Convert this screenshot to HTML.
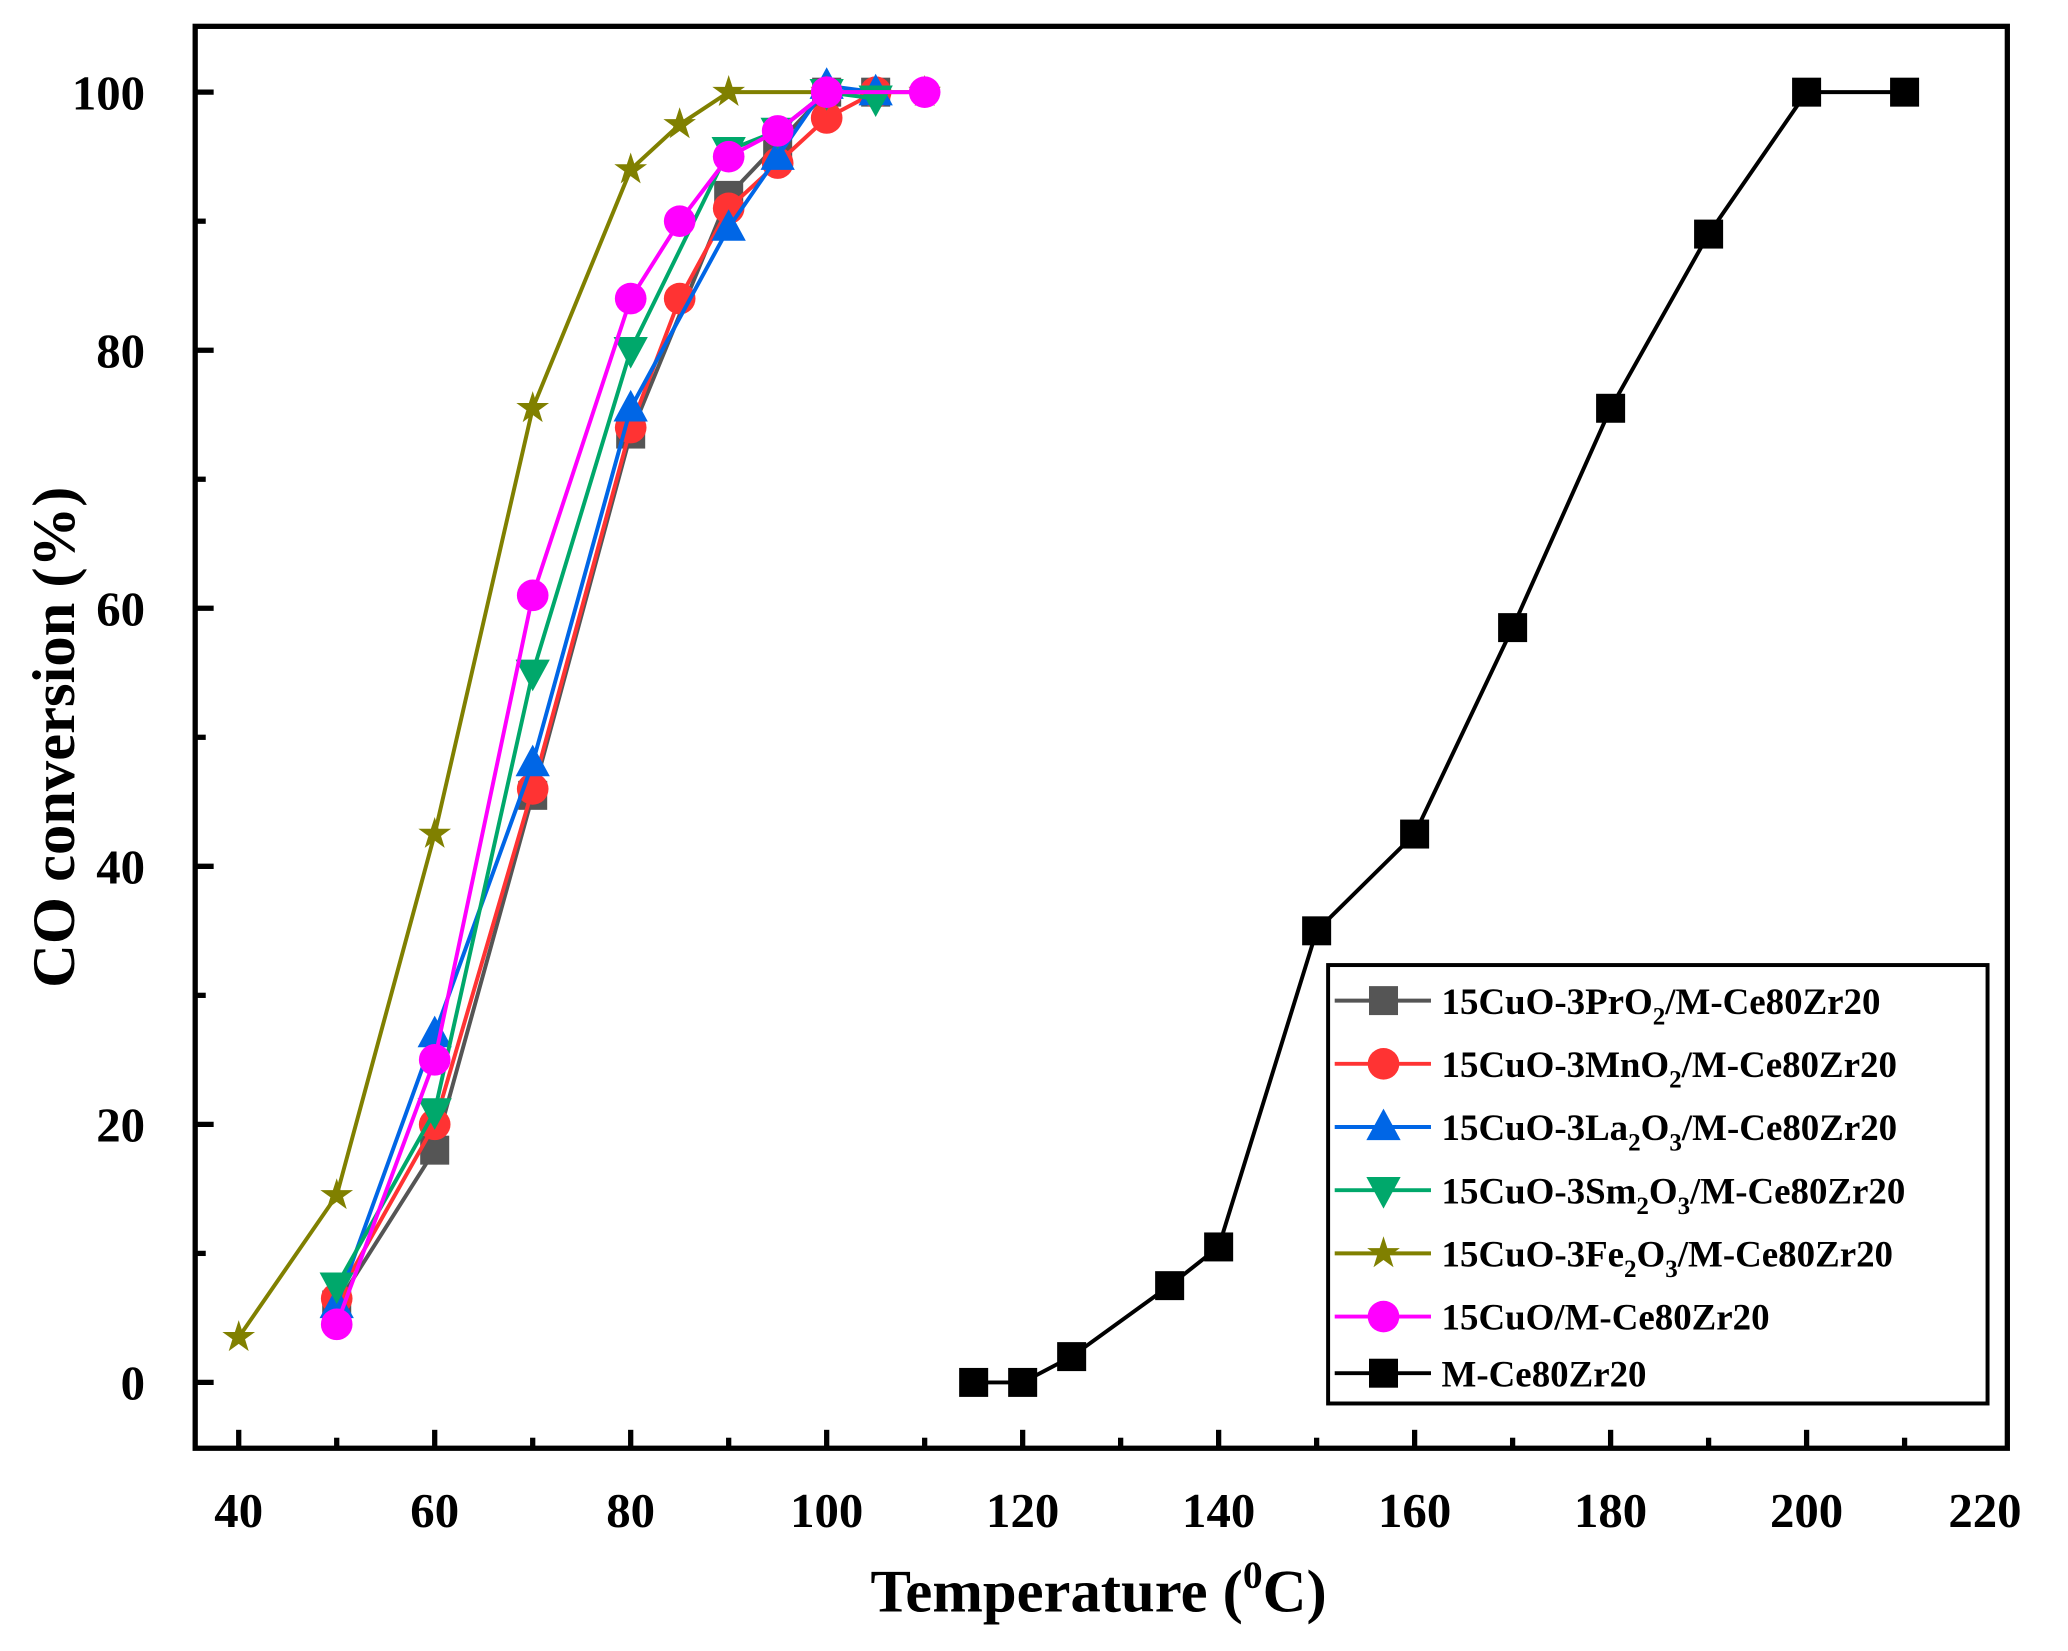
<!DOCTYPE html>
<html><head><meta charset="utf-8"><style>
html,body{margin:0;padding:0;background:#fff;}
svg{display:block;}
text{font-family:"Liberation Serif",serif;font-weight:bold;fill:#000;}
</style></head><body>
<svg id="s" width="2068" height="1651" viewBox="0 0 1568 1254" preserveAspectRatio="none" xmlns="http://www.w3.org/2000/svg">
<rect x="148" y="20" width="1374" height="1080" fill="none" stroke="#000" stroke-width="4"/>
<g id="ticks" stroke="#000" stroke-width="4"></g>
<g id="labels" font-size="37" text-anchor="middle"></g>
<g id="series"></g>
<text x="0" y="0" font-size="46" text-anchor="middle" transform="translate(56,560) rotate(-90)">CO conversion (%)</text>
<text x="833" y="1224" font-size="46" text-anchor="middle">Temperature (<tspan font-size="30" dy="-18">0</tspan><tspan dy="18">C)</tspan></text>
<rect x="1007" y="733" width="500" height="333" fill="#fff" stroke="#000" stroke-width="3"/>
<g id="legend" font-size="28"></g>
</svg>
<script>
const NS="http://www.w3.org/2000/svg";
const X=t=>181+(t-40)*7.43, Y=v=>1050-9.8*v;
function el(tag,attrs,parent,txt){const e=document.createElementNS(NS,tag);for(const k in attrs)e.setAttribute(k,attrs[k]);if(txt!==undefined)e.textContent=txt;parent.appendChild(e);return e;}
const tk=document.getElementById('ticks'),lb=document.getElementById('labels');
for(let v=0;v<=100;v+=10){const y=Y(v),L=v%20==0?14:8;el('line',{x1:148,x2:148+L,y1:y,y2:y},tk);
 if(v%20==0)el('text',{x:110,y:y+13,'text-anchor':'end'},lb,v);}
for(let t=40;t<=220;t+=10){const x=X(t),L=t%20==0?14:8;if(t<220)el('line',{x1:x,x2:x,y1:1100,y2:1100-L},tk);
 if(t%20==0)el('text',{x:t==220?1505:x,y:1160},lb,t);}
const S=[
 {c:'#555555',m:'sq',d:[[50,6],[60,18],[70,45.5],[80,73.5],[90,92],[95,96],[100,100],[105,100]]},
 {c:'#ff3333',m:'ci',d:[[50,6.5],[60,20],[70,46],[80,74],[85,84],[90,91],[95,94.5],[100,98],[105,100]]},
 {c:'#0066e6',m:'tu',d:[[50,6],[60,27],[70,48],[80,75.5],[90,89.5],[95,95],[100,100.5],[105,100]]},
 {c:'#00a86b',m:'td',d:[[50,7.5],[60,21],[70,55],[80,80],[90,95.5],[95,97],[100,100],[105,99.5]]},
 {c:'#808000',m:'st',d:[[40,3.5],[50,14.5],[60,42.5],[70,75.5],[80,94],[85,97.5],[90,100],[100,100],[110,100]]},
 {c:'#ff00ff',m:'ci',d:[[50,4.5],[60,25],[70,61],[80,84],[85,90],[90,95],[95,97],[100,100],[110,100]]},
 {c:'#000000',m:'sq',d:[[115,0],[120,0],[125,2],[135,7.5],[140,10.5],[150,35],[160,42.5],[170,58.5],[180,75.5],[190,89],[200,100],[210,100]]}];
function mk(m,x,y,c,g){const r=11;
 if(m=='sq')el('rect',{x:x-r,y:y-r,width:2*r,height:2*r,fill:c},g);
 else if(m=='ci')el('circle',{cx:x,cy:y,r:r+1,fill:c},g);
 else if(m=='tu')el('polygon',{points:`${x},${y-r-3} ${x+r+2},${y+r-1} ${x-r-2},${y+r-1}`,fill:c},g);
 else if(m=='td')el('polygon',{points:`${x},${y+r+3} ${x+r+2},${y-r+1} ${x-r-2},${y-r+1}`,fill:c},g);
 else {let p=[];for(let i=0;i<10;i++){const a=-Math.PI/2+i*Math.PI/5,rr=i%2?5:13;p.push((x+rr*Math.cos(a)).toFixed(1)+','+(y+rr*Math.sin(a)).toFixed(1));}el('polygon',{points:p.join(' '),fill:c},g);}
}
const sg=document.getElementById('series');
S.forEach(s=>{el('polyline',{points:s.d.map(p=>X(p[0])+','+Y(p[1])).join(' '),fill:'none',stroke:s.c,'stroke-width':3},sg);
 s.d.forEach(p=>mk(s.m,X(p[0]),Y(p[1]),s.c,sg));});
const lg=document.getElementById('legend');
const names=['15CuO-3PrO<tspan font-size="19" dy="8">2</tspan><tspan dy="-8">/M-Ce80Zr20</tspan>',
 '15CuO-3MnO<tspan font-size="19" dy="8">2</tspan><tspan dy="-8">/M-Ce80Zr20</tspan>',
 '15CuO-3La<tspan font-size="19" dy="8">2</tspan><tspan dy="-8">O</tspan><tspan font-size="19" dy="8">3</tspan><tspan dy="-8">/M-Ce80Zr20</tspan>',
 '15CuO-3Sm<tspan font-size="19" dy="8">2</tspan><tspan dy="-8">O</tspan><tspan font-size="19" dy="8">3</tspan><tspan dy="-8">/M-Ce80Zr20</tspan>',
 '15CuO-3Fe<tspan font-size="19" dy="8">2</tspan><tspan dy="-8">O</tspan><tspan font-size="19" dy="8">3</tspan><tspan dy="-8">/M-Ce80Zr20</tspan>',
 '15CuO/M-Ce80Zr20','M-Ce80Zr20'];
const ly=[760,808,856,904,952,1000,1043];
S.forEach((s,i)=>{const y=ly[i];el('line',{x1:1012,x2:1085,y1:y,y2:y,stroke:s.c,'stroke-width':3},lg);mk(s.m,1049,y,s.c,lg);
 const t=el('text',{x:1093,y:y+10},lg);t.innerHTML=names[i];});
</script>
</body></html>
